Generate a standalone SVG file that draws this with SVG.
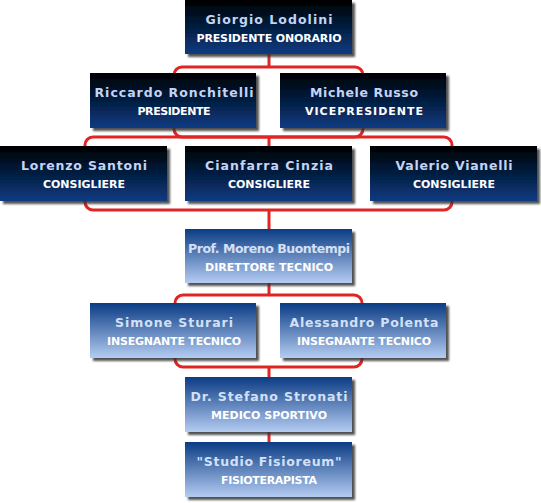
<svg xmlns="http://www.w3.org/2000/svg" width="541" height="503" viewBox="0 0 541 503">
<style>
.conn{fill:none;stroke:#e02525;stroke-width:3}
.dark{fill:url(#gDark);filter:url(#sh)}
.light{fill:url(#gLight);filter:url(#sh)}
text{font-family:"DejaVu Sans","Liberation Sans",sans-serif;font-weight:bold;text-anchor:middle}
.nm{font-size:12.5px}
.rl{font-size:11px;fill:#ffffff}
.dark-nm{fill:#c4d4f4}
.light-nm{fill:#d4e0f6}
</style>
<defs>
<linearGradient id="gDark" x1="0" y1="0" x2="0" y2="1">
<stop offset="0" stop-color="#000000"/>
<stop offset="1" stop-color="#0a3b82"/>
</linearGradient>
<linearGradient id="gLight" x1="0" y1="0" x2="0" y2="1">
<stop offset="0" stop-color="#0b3c84"/>
<stop offset="1" stop-color="#b4ccf2"/>
</linearGradient>
<filter id="sh" x="-10%" y="-10%" width="125%" height="135%">
<feGaussianBlur in="SourceAlpha" stdDeviation="1.2"/>
<feOffset dx="3" dy="3" result="b"/>
<feFlood flood-color="#333333" flood-opacity="0.85"/>
<feComposite in2="b" operator="in"/>
<feMerge><feMergeNode/><feMergeNode in="SourceGraphic"/></feMerge>
</filter>
</defs>
<rect width="541" height="503" fill="#ffffff"/>
<g id="connectors">
<line class="conn" x1="269" y1="54" x2="269" y2="67"/>
<rect class="conn" x="174" y="67" width="189" height="70" rx="8"/>
<rect class="conn" x="85" y="137" width="367" height="73" rx="8"/>
<line class="conn" x1="269" y1="137" x2="269" y2="146"/>
<line class="conn" x1="269" y1="210" x2="269" y2="229"/>
<line class="conn" x1="269" y1="283" x2="269" y2="295"/>
<rect class="conn" x="175" y="295" width="187" height="72" rx="8"/>
<line class="conn" x1="269" y1="367" x2="269" y2="377"/>
<line class="conn" x1="269" y1="432" x2="269" y2="442"/>
</g>
<g id="lodolini">
<rect class="dark" x="185" y="0" width="167" height="54"/>
<text class="nm dark-nm" x="269" y="24" textLength="127">Giorgio Lodolini</text>
<text class="rl" x="269" y="42" textLength="145">PRESIDENTE ONORARIO</text>
</g>
<g id="ronchitelli">
<rect class="dark" x="90" y="73" width="166" height="55"/>
<text class="nm dark-nm" x="174" y="97" textLength="159">Riccardo Ronchitelli</text>
<text class="rl" x="174" y="115" textLength="73">PRESIDENTE</text>
</g>
<g id="russo">
<rect class="dark" x="280" y="73" width="166" height="55"/>
<text class="nm dark-nm" x="364" y="97" textLength="108">Michele Russo</text>
<text class="rl" x="364" y="115" textLength="118">VICEPRESIDENTE</text>
</g>
<g id="santoni">
<rect class="dark" x="0" y="146" width="167" height="55"/>
<text class="nm dark-nm" x="84" y="170" textLength="126">Lorenzo Santoni</text>
<text class="rl" x="84" y="188" textLength="82">CONSIGLIERE</text>
</g>
<g id="cinzia">
<rect class="dark" x="185" y="146" width="167" height="55"/>
<text class="nm dark-nm" x="269" y="170" textLength="128">Cianfarra Cinzia</text>
<text class="rl" x="269" y="188" textLength="82">CONSIGLIERE</text>
</g>
<g id="vianelli">
<rect class="dark" x="370" y="146" width="167" height="55"/>
<text class="nm dark-nm" x="454" y="170" textLength="117">Valerio Vianelli</text>
<text class="rl" x="454" y="188" textLength="82">CONSIGLIERE</text>
</g>
<g id="buontempi">
<rect class="light" x="185" y="229" width="167" height="54"/>
<text class="nm light-nm" x="269" y="253" textLength="162">Prof. Moreno Buontempi</text>
<text class="rl" x="269" y="271" textLength="128">DIRETTORE TECNICO</text>
</g>
<g id="sturari">
<rect class="light" x="90" y="303" width="166" height="55"/>
<text class="nm light-nm" x="174" y="327" textLength="118">Simone Sturari</text>
<text class="rl" x="174" y="345" textLength="134">INSEGNANTE TECNICO</text>
</g>
<g id="polenta">
<rect class="light" x="280" y="303" width="166" height="55"/>
<text class="nm light-nm" x="364" y="327" textLength="149">Alessandro Polenta</text>
<text class="rl" x="364" y="345" textLength="134">INSEGNANTE TECNICO</text>
</g>
<g id="stronati">
<rect class="light" x="185" y="377" width="167" height="55"/>
<text class="nm light-nm" x="269" y="401" textLength="157">Dr. Stefano Stronati</text>
<text class="rl" x="269" y="419" textLength="116">MEDICO SPORTIVO</text>
</g>
<g id="fisioreum">
<rect class="light" x="185" y="442" width="167" height="55"/>
<text class="nm light-nm" x="269" y="466" textLength="145">"Studio Fisioreum"</text>
<text class="rl" x="269" y="484" textLength="96">FISIOTERAPISTA</text>
</g>
</svg>
